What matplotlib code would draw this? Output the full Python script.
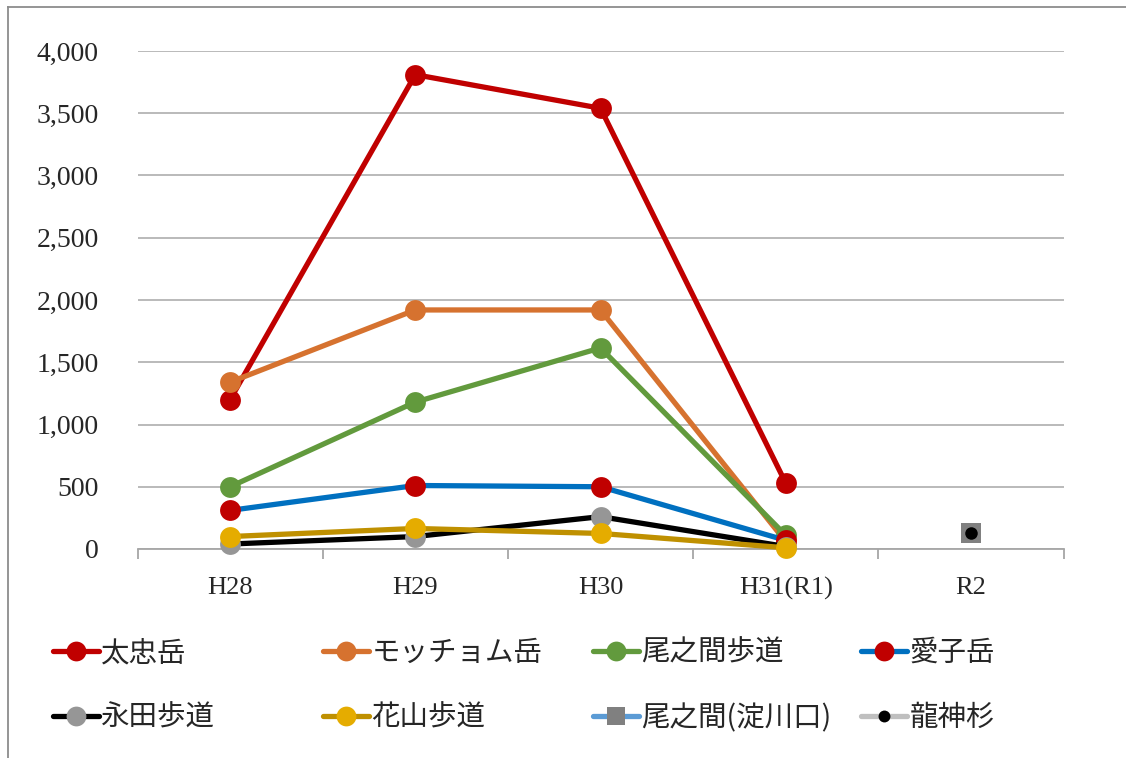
import numpy as np
import matplotlib
matplotlib.use("Agg")
import matplotlib.pyplot as plt
from matplotlib.lines import Line2D
from matplotlib.ticker import FuncFormatter, FixedLocator, NullFormatter

plt.rcParams['font.family'] = ['Liberation Serif', 'Noto Sans CJK JP', 'DejaVu Sans']

# Fiscal years
categories = ["H28", "H29", "H30", "H31(R1)", "R2"]

# Visitor counts per trail / site
taichu = [1200, 3810, 3540, 530, np.nan]        # 太忠岳
mocchomu = [1340, 1920, 1920, 60, np.nan]       # モッチョム岳
onoaida_trail = [500, 1180, 1615, 110, np.nan]  # 尾之間歩道
aiko = [310, 510, 500, 70, np.nan]              # 愛子岳
nagata = [40, 100, 260, 20, np.nan]             # 永田歩道
hanayama = [100, 165, 125, 10, np.nan]          # 花山歩道
onoaida_yodo = [np.nan, np.nan, np.nan, np.nan, 125]  # 尾之間(淀川口)
ryujin = [np.nan, np.nan, np.nan, np.nan, 125]        # 龍神杉

series_names = ["太忠岳", "モッチョム岳", "尾之間歩道", "愛子岳",
                "永田歩道", "花山歩道", "尾之間(淀川口)", "龍神杉"]
series_values = [taichu, mocchomu, onoaida_trail, aiko,
                 nagata, hanayama, onoaida_yodo, ryujin]

# (line colour, marker face colour, marker, marker size)
styles = [
    ("#C00000", "#C00000", "o", 15),
    ("#D6722F", "#D6722F", "o", 15),
    ("#629A3D", "#629A3D", "o", 15),
    ("#0070C0", "#C00000", "o", 15),
    ("#000000", "#969696", "o", 15),
    ("#BF9000", "#E5AC00", "o", 15),
    ("#5B9BD5", "#808080", "s", 14),
    ("#BFBFBF", "#000000", "o", 9),
]

fig = plt.figure(figsize=(11.26, 7.58), dpi=100)
W, H = 1126, 758
ax = fig.add_axes([137.5 / W, (H - 549) / H, (1063.5 - 137.5) / W, (549 - 51) / H])

x = np.arange(len(categories))
handles = []
for i, (name, vals, (lc, mc, mk, ms)) in enumerate(zip(series_names, series_values, styles)):
    ln, = ax.plot(x, vals, color=lc, lw=3.8, marker=mk, markersize=ms,
                  markerfacecolor=mc, markeredgecolor=mc, markeredgewidth=0,
                  solid_capstyle='round', clip_on=False, zorder=3 + i, label=name)
    handles.append(ln)

ax.set_xlim(-0.5, len(categories) - 0.5)
ax.set_ylim(0, 4000)
ax.set_yticks(np.arange(0, 4001, 500))
ax.yaxis.set_major_formatter(FuncFormatter(lambda v, p: f"{int(v):,}"))

ax.grid(axis='y', color='#B4B4B4', lw=1.3)
ax.set_axisbelow(True)
for s in ['top', 'right', 'left']:
    ax.spines[s].set_visible(False)
ax.spines['bottom'].set_color('#A6A6A6')
ax.spines['bottom'].set_linewidth(1.3)

# Category boundaries carry the tick marks; labels sit at the category centres
ax.xaxis.set_major_locator(FixedLocator(np.arange(-0.5, len(categories), 1.0)))
ax.xaxis.set_major_formatter(NullFormatter())
ax.xaxis.set_minor_locator(FixedLocator(x))
ax.set_xticklabels(categories, minor=True)
ax.tick_params(axis='x', which='major', length=7, width=1.3, color='#A6A6A6')
ax.tick_params(axis='x', which='minor', length=0, pad=20, labelsize=19, labelcolor='#262626')
ax.tick_params(axis='y', length=0, pad=28, labelsize=20, labelcolor='#262626')

# Legend: one entry per slot in a 4 x 2 grid
col_x = [53, 323, 593, 861]
row_y = [653, 718]
for i, h in enumerate(handles):
    cx = col_x[i % 4]
    cy = row_y[i // 4]
    fig.legend(handles=[h], labels=[h.get_label()], loc='center left',
               bbox_to_anchor=(cx / W, (H - cy) / H), frameon=False,
               handlelength=1.6, handletextpad=0.1, borderpad=0, borderaxespad=0,
               numpoints=1, markerscale=0.95,
               prop={'family': ['Noto Sans CJK JP', 'DejaVu Sans'], 'size': 20.5},
               labelcolor='#262626')

# Outer frame (top and left edges)
fig.add_artist(Line2D([8 / W, 1.0], [(H - 7) / H, (H - 7) / H], transform=fig.transFigure,
                      color='#8C8C8C', lw=1.3))
fig.add_artist(Line2D([8 / W, 8 / W], [0, (H - 7) / H], transform=fig.transFigure,
                      color='#8C8C8C', lw=1.3))

fig.savefig("out.png", dpi=100, facecolor='white')
